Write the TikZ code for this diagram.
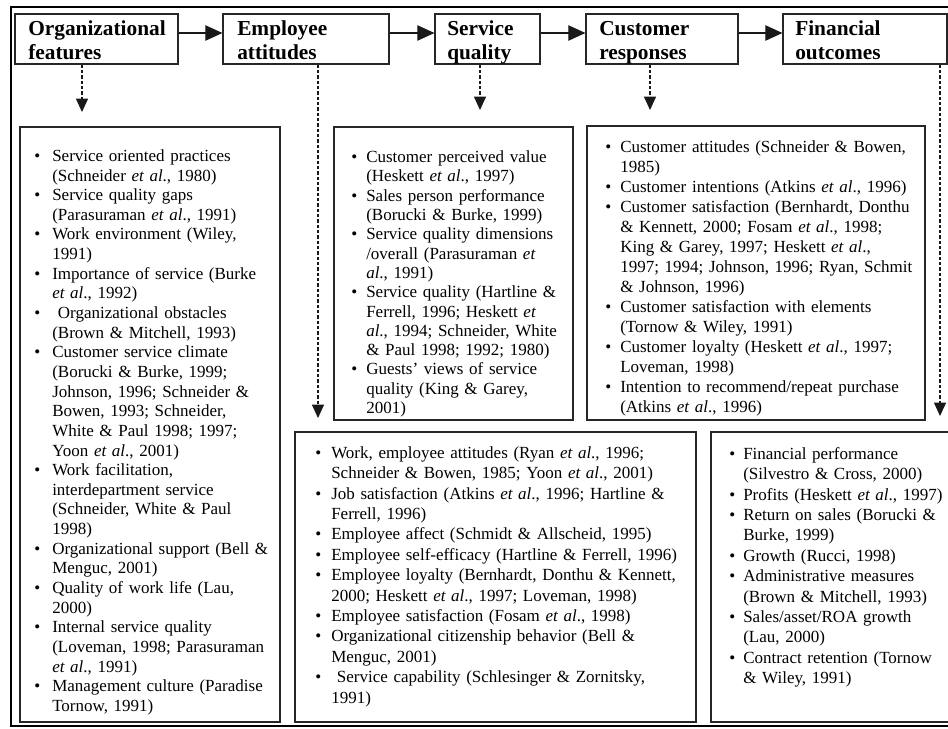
\documentclass[tikz,border=0pt]{standalone}
\usepackage{fontspec}
\setmainfont{Liberation Serif}
\usetikzlibrary{arrows.meta,fit,calc}

% bullet item with hanging indent; inside an item \\ is a plain line break
\newlength\bulind
\newcommand{\bul}[1]{\par\hangindent=\bulind\hangafter=1\noindent
  \makebox[\bulind][l]{\rule{0pt}{10pt}\textbullet}{\let\\\newline#1}\par}

\begin{document}
\begin{tikzpicture}[x=0.75pt,y=-0.75pt,
  hbox/.style={draw=black!85, line width=0.9pt, inner sep=0pt},
  lbox/.style={draw=black!85, line width=0.9pt, inner sep=0pt},
  htext/.style={anchor=north west, inner sep=0pt, align=left,
    font=\fontsize{16}{18.4}\selectfont\bfseries},
  ltext/.style={anchor=north west, inner sep=0pt, text width=330pt, align=left},
  flow/.style={draw=black!90, line width=0.8pt, -{Triangle[length=12.75pt,width=11.5pt]}},
  drop/.style={draw=black!90, line width=0.8pt, dash pattern=on 2.5pt off 1.5pt,
    -{Triangle[length=10pt,width=9pt]}}]

\useasboundingbox (0,0) rectangle (948,728);
\clip (0,0) rectangle (948,728);

% outer frame
\draw[line width=2.2pt] (970,7) -- (11,7) -- (11,726) -- (970,726);

% stage headers
\node[hbox, fit={(15,14) (178,64)}] (h1) {};
\node[hbox, fit={(223,14) (389,64)}] (h2) {};
\node[hbox, fit={(435,14) (540,64)}] (h3) {};
\node[hbox, fit={(586,14) (738,64)}] (h4) {};
\node[hbox, fit={(783,14) (947,64)}] (h5) {};

\node[htext] (t1) at (28,15) {\rule{0pt}{15pt}Organizational\\features};
\node[htext] (t2) at (237,15) {\rule{0pt}{15pt}Employee\\attitudes};
\node[htext] (t3) at (447,15) {\rule{0pt}{15pt}Service\\quality};
\node[htext] (t4) at (599,15) {\rule{0pt}{15pt}Customer\\responses};
\node[htext] (t5) at (795,15) {\rule{0pt}{15pt}Financial\\outcomes};

% flow between stages
\draw[flow] ($(h1.east)+(0,-6)$) -- ($(h2.west)+(0,-6)$);
\draw[flow] ($(h2.east)+(0,-6)$) -- ($(h3.west)+(0,-6)$);
\draw[flow] ($(h3.east)+(0,-6)$) -- ($(h4.west)+(0,-6)$);
\draw[flow] ($(h4.east)+(0,-6)$) -- ($(h5.west)+(0,-6)$);

% list boxes
\node[lbox, fit={(20,127) (280,722)}] (b1) {};
\node[lbox, fit={(334,127) (573,420)}] (b2) {};
\node[lbox, fit={(587,126) (925,420)}] (b3) {};
\node[lbox, fit={(295,432) (696,722)}] (b4) {};
\node[lbox, fit={(711,432) (970,722)}] (b5) {};

% dashed links from headers to their lists
\coordinate (d1) at (82,112);
\coordinate (d2) at (318,418);
\coordinate (d3) at (480,110);
\coordinate (d4) at (650,110);
\coordinate (d5) at (940,416);
\draw[drop] (h1.south -| d1) -- (d1);
\draw[drop] (h2.south -| d2) -- (d2);
\draw[drop] (h3.south -| d3) -- (d3);
\draw[drop] (h4.south -| d4) -- (d4);
\draw[drop] (h5.south -| d5) -- (d5);

% list texts
\node[ltext, font=\fontsize{12.75}{14.73}\selectfont] (l1) at (34,141.5) {%
\setlength\bulind{13.5pt}%
\bul{Service oriented practices\\(Schneider \textit{et al}., 1980)}
\bul{Service quality gaps\\(Parasuraman \textit{et al}., 1991)}
\bul{Work environment (Wiley,\\1991)}
\bul{Importance of service (Burke\\\textit{et al}., 1992)}
\bul{\ Organizational obstacles\\(Brown \& Mitchell, 1993)}
\bul{Customer service climate\\(Borucki \& Burke, 1999;\\Johnson, 1996; Schneider \&\\Bowen, 1993; Schneider,\\White \& Paul 1998; 1997;\\Yoon \textit{et al}., 2001)}
\bul{Work facilitation,\\interdepartment service\\(Schneider, White \& Paul\\1998)}
\bul{Organizational support (Bell \&\\Menguc, 2001)}
\bul{Quality of work life (Lau,\\2000)}
\bul{Internal service quality\\(Loveman, 1998; Parasuraman\\\textit{et al}., 1991)}
\bul{Management culture (Paradise\\Tornow, 1991)}};

\node[ltext, font=\fontsize{12.75}{14.48}\selectfont] (l2) at (351,143) {%
\setlength\bulind{11.25pt}%
\bul{Customer perceived value\\(Heskett \textit{et al}., 1997)}
\bul{Sales person performance\\(Borucki \& Burke, 1999)}
\bul{Service quality dimensions\\/overall (Parasuraman \textit{et}\\\textit{al}., 1991)}
\bul{Service quality (Hartline \&\\Ferrell, 1996; Heskett \textit{et}\\\textit{al}., 1994; Schneider, White\\\& Paul 1998; 1992; 1980)}
\bul{Guests' views of service\\quality (King \& Garey,\\2001)}};

\node[ltext, font=\fontsize{12.75}{14.98}\selectfont] (l3) at (605,132.7) {%
\setlength\bulind{11.25pt}%
\bul{Customer attitudes (Schneider \& Bowen,\\1985)}
\bul{Customer intentions (Atkins \textit{et al}., 1996)}
\bul{Customer satisfaction (Bernhardt, Donthu\\\& Kennett, 2000; Fosam \textit{et al}., 1998;\\King \& Garey, 1997; Heskett \textit{et al}.,\\1997; 1994; Johnson, 1996; Ryan, Schmit\\\& Johnson, 1996)}
\bul{Customer satisfaction with elements\\(Tornow \& Wiley, 1991)}
\bul{Customer loyalty (Heskett \textit{et al}., 1997;\\Loveman, 1998)}
\bul{Intention to recommend/repeat purchase\\(Atkins \textit{et al}., 1996)}};

\node[ltext, font=\fontsize{12.75}{15.3}\selectfont] (l4) at (315,437.7) {%
\setlength\bulind{12pt}%
\bul{Work, employee attitudes (Ryan \textit{et al}., 1996;\\Schneider \& Bowen, 1985; Yoon \textit{et al}., 2001)}
\bul{Job satisfaction (Atkins \textit{et al}., 1996; Hartline \&\\Ferrell, 1996)}
\bul{Employee affect (Schmidt \& Allscheid, 1995)}
\bul{Employee self-efficacy (Hartline \& Ferrell, 1996)}
\bul{Employee loyalty (Bernhardt, Donthu \& Kennett,\\2000; Heskett \textit{et al}., 1997; Loveman, 1998)}
\bul{Employee satisfaction (Fosam \textit{et al}., 1998)}
\bul{Organizational citizenship behavior (Bell \&\\Menguc, 2001)}
\bul{\ Service capability (Schlesinger \& Zornitsky,\\1991)}};

\node[ltext, font=\fontsize{12.75}{15.3}\selectfont] (l5) at (729,438.7) {%
\setlength\bulind{10.5pt}%
\bul{Financial performance\\(Silvestro \& Cross, 2000)}
\bul{Profits (Heskett \textit{et al}., 1997)}
\bul{Return on sales (Borucki \&\\Burke, 1999)}
\bul{Growth (Rucci, 1998)}
\bul{Administrative measures\\(Brown \& Mitchell, 1993)}
\bul{Sales/asset/ROA growth\\(Lau, 2000)}
\bul{Contract retention (Tornow\\\& Wiley, 1991)}};
\end{tikzpicture}
\end{document}
